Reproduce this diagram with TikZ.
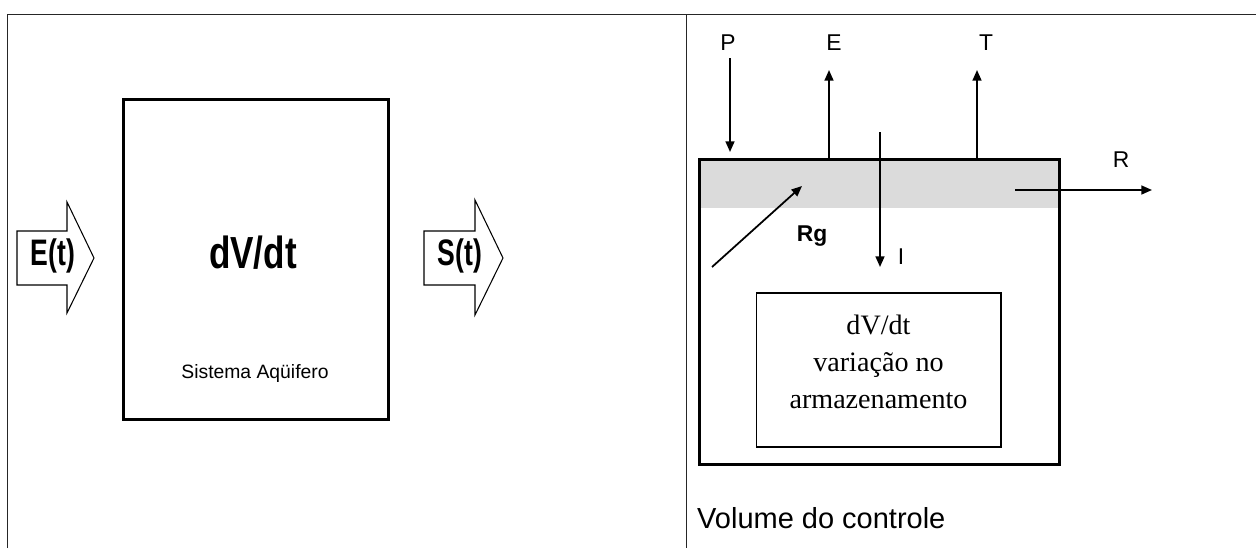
\documentclass[tikz,border=0pt]{standalone}
\usepackage{fontspec}
\setmainfont{Liberation Serif}
\setsansfont{Liberation Sans}
\usetikzlibrary{arrows.meta,positioning}

\begin{document}
\begin{tikzpicture}[x=0.02cm,y=-0.02cm]
 \tikzstyle{frameline}=[line width=.5pt,black!85]
 \tikzstyle{thickbox}=[rectangle,draw=black,line width=1.7pt,inner sep=0pt]
 \tikzstyle{thinbox}=[rectangle,draw=black,line width=.6pt,inner sep=0pt]
 \tikzstyle{blockarrow}=[draw=black,line width=.6pt,fill=white,line join=miter]
 \tikzstyle{flow}=[-{Triangle[length=6pt,width=5pt]},line width=1pt]
 \tikzstyle{lbl}=[font=\sffamily\fontsize{13}{15}\selectfont,inner sep=1pt]
 \useasboundingbox (0,0) rectangle (1256,548);
 % frame of the two panels
 \draw[frameline] (7,548) -- (7,14) -- (1256,14);
 \draw[frameline] (686,14) -- (686,548);
 % left panel: aquifer system
 \node (aq) [thickbox,minimum width=5.32cm,minimum height=6.42cm] at (256,259.5) {};
 \node (rate) [font=\sffamily\bfseries\fontsize{25.6}{28}\selectfont] at (253,253)
   {\scalebox{.78}[1]{dV/dt}};
 \node (sys) [font=\sffamily\fontsize{11}{13}\selectfont] at (255,373) {Sistema Aqüifero};
 \draw[blockarrow] (17,231) -- (67,231) -- (67,202) -- (94,258) -- (67,313)
   -- (67,285) -- (17,285) -- cycle;
 \node (inflow) [font=\sffamily\bfseries\fontsize{21}{24}\selectfont] at (53,256)
   {\scalebox{.72}[1]{E(t)}};
 \draw[blockarrow] (424,231) -- (475,231) -- (475,200) -- (503,258) -- (475,315)
   -- (475,285) -- (424,285) -- cycle;
 \node (outflow) [font=\sffamily\bfseries\fontsize{21}{24}\selectfont] at (460,256)
   {\scalebox{.72}[1]{S(t)}};
 % right panel: control volume
 \node (band) [rectangle,fill=gray!28,minimum width=7.22cm,minimum height=.98cm,
   inner sep=0pt] at (879.5,183.5) {};
 \node (ctrl) [thickbox,minimum width=7.22cm,minimum height=6.12cm] at (879.5,312) {};
 \node (storebox) [thinbox,minimum width=4.9cm,minimum height=3.08cm] at (878.5,370) {};
 \node (store) [font=\fontsize{16}{21}\selectfont,align=center] at (878.5,362)
   {dV/dt\\variação no\\armazenamento};
 \node (cv) [anchor=west,font=\sffamily\fontsize{16.5}{19}\selectfont] at (691,518)
   {Volume do controle};
 % fluxes
 \node (lblP) [lbl] at (728,43) {P};
 \node (lblE) [lbl] at (834,43) {E};
 \node (lblT) [lbl] at (986,43) {T};
 \node (lblR) [lbl] at (1121,160) {R};
 \node (lblRg) [lbl,font=\sffamily\bfseries\fontsize{13}{15}\selectfont] at (812,236) {Rg};
 \node (lblI) [lbl] at (901,257) {I};
 \coordinate (pTop) at (730,58);
 \coordinate (pBot) at (730,152);
 \coordinate (eTip) at (829,70);
 \coordinate (tTip) at (977,70);
 \coordinate (iTop) at (880,132);
 \coordinate (iBot) at (880,267);
 \coordinate (rgStart) at (712,267);
 \coordinate (rgEnd) at (802,186);
 \coordinate (rStart) at (1015,190);
 \coordinate (rEnd) at (1152,190);
 \draw[flow] (pTop) -- (pBot);
 \draw[flow] (eTip |- ctrl.north) -- (eTip);
 \draw[flow] (tTip |- ctrl.north) -- (tTip);
 \draw[flow] (iTop) -- (iBot);
 \draw[flow] (rgStart) -- (rgEnd);
 \draw[flow] (rStart) -- (rEnd);
\end{tikzpicture}
\end{document}
